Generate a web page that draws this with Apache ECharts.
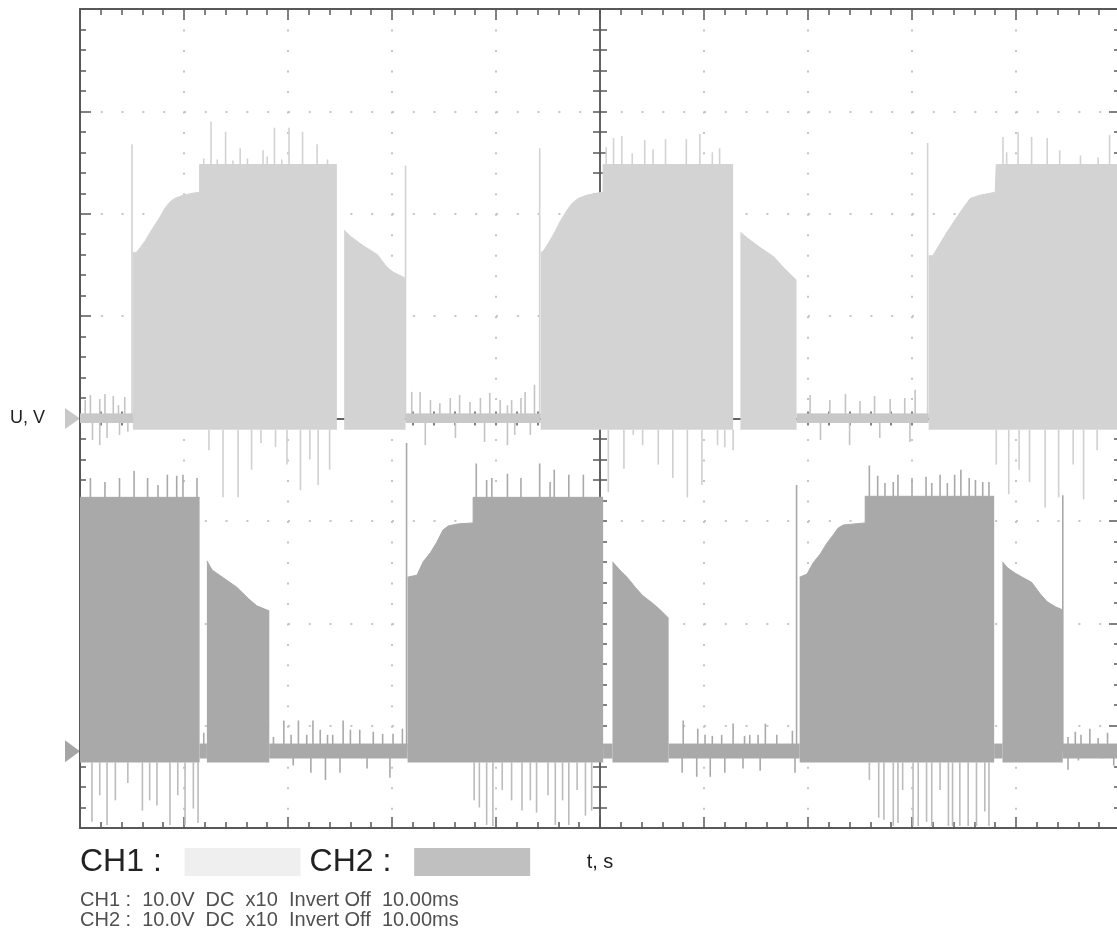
<!DOCTYPE html>
<html>
<head>
<meta charset="utf-8">
<script src="https://cdn.jsdelivr.net/npm/echarts@6/dist/echarts.min.js"></script>
<style>
  html, body { margin: 0; padding: 0; background: #fff; }
  #main { width: 1117px; height: 933px; }
</style>
</head>
<body>
<div id="main"></div>
<script>
// time in ms (10 ms/div), voltage in V (10 V/div), each channel relative to its own ground
var ch2Offset = -32.5;

// upper envelope of the PWM bursts, [t, V]; null breaks the fill
var ch1Envelope = [
  [5.1, 16.2], [5.4, 16.2], [5.8, 16.7], [6.3, 17.4], [6.7, 18.1], [7.2, 18.9], [7.7, 19.7], [8.2, 20.6],
  [8.7, 21.2], [9.1, 21.5], [9.9, 21.8], [10.8, 22.0], [11.5, 22.1], [11.5, 24.8], [24.7, 24.8], [25.0, null],
  [25.4, 18.4], [26.0, 17.8], [27.2, 16.9], [28.6, 16.0], [29.5, 14.8], [30.1, 14.3], [31.3, 13.7], [31.4, null],
  [44.3, 16.2], [44.6, 16.4], [45.2, 17.4], [45.7, 18.3], [46.2, 19.3], [46.8, 20.3], [47.3, 21.0], [47.9, 21.5],
  [48.7, 21.8], [49.6, 22.0], [50.3, 22.1], [50.3, 24.8], [62.8, 24.8], [63.1, null],
  [63.5, 18.2], [64.2, 17.6], [65.4, 16.7], [66.7, 15.8], [67.6, 14.8], [68.2, 14.2], [68.9, 13.5], [69.0, null],
  [81.6, 15.9], [82.0, 15.9], [83.3, 18.1], [84.6, 20.1], [85.6, 21.5], [86.5, 21.8], [88.0, 22.1], [88.1, 24.8], [100, 24.8]
];
var ch2Envelope = [
  [0, 24.8], [11.5, 24.8], [11.9, null],
  [12.2, 18.6], [12.7, 17.7], [13.7, 17.0], [15.1, 16.0], [16.2, 14.9], [17.0, 14.2], [18.2, 13.7], [18.3, null],
  [31.5, 17.0], [32.4, 17.2], [33.0, 18.5], [33.7, 19.4], [34.3, 20.4], [34.9, 21.6], [35.4, 22.0], [36.3, 22.2],
  [37.8, 22.3], [37.8, 24.8], [50.3, 24.8], [50.7, null],
  [51.2, 18.5], [51.9, 17.7], [52.6, 17.0], [53.4, 16.0], [54.1, 15.2], [55.0, 14.5], [55.8, 13.8], [56.6, 13.0], [56.7, null],
  [69.2, 17.0], [69.9, 17.3], [70.5, 18.4], [71.2, 19.3], [71.8, 20.3], [72.4, 21.1], [72.9, 21.8], [73.4, 22.1],
  [75.5, 22.3], [75.5, 24.9], [87.9, 24.9], [88.3, null],
  [88.7, 18.5], [89.2, 17.9], [89.9, 17.4], [90.6, 17.0], [91.5, 16.5], [92.3, 15.4], [93.0, 14.6], [93.8, 14.1], [94.5, 13.8]
];
var ch1FillBottom = -1.1;
var ch2FillBottom = -1.1;

// stretches where only switching noise sits on the ground line, [from, to] in ms
var ch1NoiseSpans = [[0, 5.1], [31.3, 44.3], [68.9, 81.6]];
var ch2NoiseSpans = [[11.5, 12.2], [18.2, 31.5], [50.3, 51.2], [56.6, 69.2], [87.9, 88.7], [94.5, 100]];
var ch1NoiseLevel = 0.45;
var ch2NoiseLevel = 0.7;

// ringing spikes, [t, V]
var ch1SpikesUp = [
  [5.0, 26.8], [12.6, 29.0], [14.0, 28.0], [15.4, 26.4], [17.6, 26.2], [18.7, 28.4], [20.1, 28.4], [21.4, 28.0], [22.8, 26.8],
  [11.9, 25.4], [13.2, 25.3], [14.7, 25.2], [16.1, 25.4], [18.0, 25.6], [19.4, 25.3], [23.8, 25.3], [31.3, 24.7],
  [44.2, 26.4], [50.6, 26.5], [51.3, 27.4], [52.1, 27.6], [53.1, 25.9], [54.3, 27.2], [55.1, 26.3], [56.3, 27.3],
  [58.3, 27.3], [59.6, 27.8], [60.8, 26.0], [61.5, 26.4],
  [81.5, 26.9], [88.75, 27.5], [89.1, 26.0], [90.2, 28.0], [91.5, 27.5], [93.0, 27.4], [94.2, 26.2], [96.2, 25.7],
  [97.9, 25.5], [99.0, 27.7]
];
var ch1SpikesDown = [
  [12.4, -3.1], [13.75, -7.7], [15.2, -7.7], [16.5, -5.0], [17.4, -2.4], [18.8, -2.8], [19.9, -4.5], [21.2, -7.0],
  [22.1, -4.0], [22.9, -6.5], [24.0, -5.0],
  [50.8, -7.2], [52.3, -4.9], [53.2, -1.6], [54.1, -2.6], [55.6, -4.5], [57.0, -5.8], [58.4, -7.7], [59.8, -6.5],
  [61.3, -2.6], [62.0, -2.8], [62.8, -3.1],
  [88.1, -4.5], [89.3, -7.4], [90.3, -5.0], [91.3, -6.2], [92.8, -8.7], [94.1, -7.7], [95.5, -4.5], [96.5, -7.9], [97.8, -3.1]
];
var ch1Noise = [
  [0.5, 1.8], [1.0, 2.3], [1.9, 1.9], [2.4, 2.4], [3.2, 2.2], [3.7, 1.3], [4.3, 2.1],
  [1.2, -2.1], [1.9, -2.6], [2.6, -1.9], [3.8, -1.6], [4.6, -1.3],
  [31.9, 2.6], [32.7, 2.6], [33.7, 1.8], [34.6, 1.5], [35.6, 2.0], [36.5, 2.3], [37.5, 1.6], [38.5, 2.0], [39.4, 2.5],
  [40.4, 1.8], [41.1, 1.3], [41.5, 1.8], [42.4, 2.0], [42.8, 2.6], [43.7, 3.3],
  [33.2, -2.6], [36.1, -1.9], [38.9, -2.3], [41.1, -2.6], [41.8, -1.6], [43.3, -1.6],
  [70.2, 2.3], [72.1, 1.8], [73.6, 2.4], [75.0, 1.7], [76.4, 2.2], [77.9, 1.9], [79.3, 2.0], [80.3, 2.8],
  [71.2, -2.1], [74.0, -2.6], [76.9, -1.9], [79.8, -2.3]
];
var ch2SpikesUp = [
  [1.0, 26.7], [2.4, 26.3], [3.8, 26.7], [5.2, 27.4], [6.5, 26.7], [7.5, 26.0], [8.4, 27.0], [9.3, 26.9], [9.9, 27.0], [11.25, 26.7],
  [31.4, 30.1], [38.1, 28.1], [39.1, 26.5], [39.6, 26.7], [41.1, 27.1], [42.4, 26.7], [44.2, 28.1], [45.2, 26.3],
  [45.6, 27.5], [47.0, 27.0], [48.4, 27.0],
  [68.9, 26.0], [75.9, 27.9], [76.7, 26.9], [77.4, 26.2], [78.2, 26.3], [78.65, 27.0], [80.0, 26.7], [81.35, 26.8],
  [81.9, 26.2], [82.7, 27.0], [83.4, 26.2], [84.1, 27.0], [84.7, 27.5], [85.5, 26.7], [86.1, 26.5], [86.8, 26.3],
  [87.4, 26.3], [94.5, 25.0]
];
var ch2SpikesDown = [
  [1.15, -6.9], [1.9, -4.3], [2.6, -7.2], [3.4, -4.8], [4.6, -3.1], [6.0, -5.8], [6.7, -4.8], [7.4, -5.3],
  [8.65, -7.2], [9.4, -4.3], [10.1, -7.2], [10.9, -5.6], [11.35, -7.0],
  [37.9, -4.8], [38.4, -5.5], [39.1, -7.2], [39.7, -7.3], [40.6, -3.8], [41.5, -4.8], [42.5, -5.8], [43.3, -4.8],
  [43.9, -6.0], [45.0, -4.3], [45.7, -7.2], [46.4, -4.8], [47.0, -7.2], [47.8, -3.8], [48.6, -6.3], [49.2, -5.8],
  [75.9, -2.8], [76.8, -6.5], [77.3, -6.7], [78.2, -7.3], [78.65, -7.0], [79.1, -3.8], [80.1, -7.3], [80.6, -7.3],
  [81.4, -6.9], [81.9, -7.3], [82.7, -3.8], [83.5, -7.3], [83.9, -7.3], [84.6, -7.3], [85.4, -7.3], [86.2, -7.3],
  [87.0, -5.9], [87.4, -7.3]
];
var ch2Noise = [
  [11.9, 1.8],
  [18.6, 1.4], [19.6, 3.0], [20.3, 1.6], [21.0, 3.0], [21.8, 1.6], [22.4, 3.0], [23.1, 2.1], [23.8, 1.6], [24.3, 1.6],
  [25.3, 3.0], [26.0, 2.1], [26.9, 2.1], [28.2, 1.9], [29.1, 1.7], [30.1, 1.7], [31.0, 2.2],
  [20.5, -1.4], [22.2, -2.1], [23.6, -2.8], [25.0, -2.1], [27.6, -1.7], [29.8, -2.6],
  [58.0, 3.0], [59.4, 2.2], [60.1, 1.6], [60.8, 1.5], [61.7, 1.6], [62.8, 2.7], [63.9, 1.5], [64.4, 1.6], [65.2, 1.6],
  [65.9, 2.7], [67.0, 1.6], [68.5, 2.0],
  [57.9, -2.1], [59.3, -2.5], [60.6, -2.5], [62.0, -2.1], [63.75, -1.7], [65.4, -1.9], [68.75, -2.1],
  [95.0, 1.4], [95.7, 1.9], [96.25, 1.6], [97.1, 2.2], [97.9, 1.3], [98.8, 1.8],
  [95.0, -1.8], [96.0, -0.9], [98.3, -0.7], [99.4, -1.4]
];

var legendNames = ['CH1', 'CH2'];
var infoLines = [
  'CH1 :  10.0V  DC  x10  Invert Off  10.00ms',
  'CH2 :  10.0V  DC  x10  Invert Off  10.00ms'
];

var font = 'Liberation Sans, Arial, sans-serif';
var ch1Color = '#d3d3d3';
var ch2Color = '#a9a9a9';
var axisColor = '#585858';

function shift(points, offset) {
  return points.map(function (p) {
    return [p[0], p[1] == null ? null : p[1] + offset];
  });
}

function spans(list, level, offset) {
  var out = [];
  list.forEach(function (s, i) {
    if (i > 0) out.push([s[0] - 0.01, null]);
    out.push([s[0], level + offset], [s[1], level + offset]);
  });
  return out;
}

function envelopeSeries(name, data, origin, color) {
  return {
    name: name,
    type: 'line',
    data: data,
    showSymbol: false,
    silent: true,
    connectNulls: false,
    lineStyle: { color: color, width: 1 },
    itemStyle: { color: color },
    areaStyle: { color: color, opacity: 1, origin: origin },
    z: 3
  };
}

function spikeSeries(data, base, offset, color) {
  return {
    type: 'custom',
    data: data,
    silent: true,
    clip: true,
    z: 2,
    encode: { x: 0, y: 1 },
    renderItem: function (params, api) {
      var t = api.value(0);
      var p0 = api.coord([t, base + offset]);
      var p1 = api.coord([t, api.value(1) + offset]);
      return {
        type: 'line',
        shape: { x1: p0[0], y1: p0[1], x2: p1[0], y2: p1[1] },
        style: { stroke: color, lineWidth: 1.6 }
      };
    }
  };
}

function frameAxis(extra) {
  return Object.assign({
    type: 'value',
    axisLine: { onZero: false, lineStyle: { color: axisColor, width: 2 } },
    axisTick: { inside: true, length: 11, lineStyle: { color: axisColor, width: 1.5 } },
    minorTick: { show: true, splitNumber: 5, length: 6, lineStyle: { color: axisColor, width: 1.5 } },
    axisLabel: { show: false },
    splitLine: { show: false },
    minorSplitLine: { show: false }
  }, extra);
}

function centerAxis(extra) {
  return Object.assign({
    type: 'value',
    interval: 2,
    axisLine: { lineStyle: { color: axisColor, width: 1.5 } },
    axisTick: { length: 7, lineStyle: { color: axisColor, width: 1.5 } },
    axisLabel: { show: false },
    splitLine: { show: false }
  }, extra);
}

var chart = echarts.init(document.getElementById('main'));

var option = {
  backgroundColor: '#fff',
  animation: false,
  textStyle: { fontFamily: font },
  // the screen runs a few pixels past the right edge of the picture
  grid: { left: 80, top: 9, width: 1040, height: 819, outerBoundsMode: 'none', containLabel: false },
  title: {
    text: infoLines.join('\n'),
    left: 80,
    top: 890,
    padding: 0,
    textStyle: { fontFamily: font, fontSize: 20, fontWeight: 'normal', color: '#505050', lineHeight: 20 }
  },
  legend: {
    data: [
      { name: legendNames[0], itemStyle: { color: '#efefef' } },
      { name: legendNames[1], itemStyle: { color: '#c0c0c0' } }
    ],
    left: 80,
    top: 846,
    padding: 0,
    icon: 'rect',
    align: 'right',
    itemWidth: 116,
    itemHeight: 28,
    itemGap: 9,
    selectedMode: false,
    formatter: function (name) { return name + ' :  '; },
    textStyle: { fontFamily: font, fontSize: 32, color: '#222' }
  },
  xAxis: [
    frameAxis({
      min: 0, max: 100, interval: 10, position: 'bottom',
      splitLine: { show: true, lineStyle: { color: '#c6c6c6', width: 2, type: [2, 18.48] } },
      name: 't, s', nameLocation: 'middle', nameGap: 24,
      nameTextStyle: { fontFamily: font, fontSize: 20, color: '#222' }
    }),
    frameAxis({ min: 0, max: 100, interval: 10, position: 'top' }),
    centerAxis({ min: 0, max: 100, position: 'bottom', axisLine: { onZero: true, onZeroAxisIndex: 0, lineStyle: { color: axisColor, width: 1.5 } }, axisTick: { inside: false, length: 7, lineStyle: { color: axisColor, width: 1.5 } } }),
    centerAxis({ min: 0, max: 100, position: 'bottom', axisLine: { onZero: true, onZeroAxisIndex: 0, lineStyle: { color: axisColor, width: 1.5 } }, axisTick: { inside: true, length: 7, lineStyle: { color: axisColor, width: 1.5 } } })
  ],
  yAxis: [
    frameAxis({
      min: -40, max: 40, interval: 10, position: 'left',
      splitLine: { show: true, lineStyle: { color: '#c6c6c6', width: 2, type: [2, 18.8] } },
      name: 'U, V', nameLocation: 'middle', nameGap: 35, nameRotate: 0,
      nameTextStyle: { fontFamily: font, fontSize: 18, color: '#222' }
    }),
    frameAxis({ min: -40, max: 40, interval: 10, position: 'right' }),
    centerAxis({ min: -40, max: 40, position: 'left', offset: -520, axisLine: { onZero: false, lineStyle: { color: axisColor, width: 1.5 } }, axisTick: { inside: false, length: 7, lineStyle: { color: axisColor, width: 1.5 } } }),
    centerAxis({ min: -40, max: 40, position: 'left', offset: -520, axisLine: { onZero: false, lineStyle: { color: axisColor, width: 1.5 } }, axisTick: { inside: true, length: 7, lineStyle: { color: axisColor, width: 1.5 } } })
  ],
  series: [
    envelopeSeries('CH1', ch1Envelope, ch1FillBottom, ch1Color),
    envelopeSeries('CH2', shift(ch2Envelope, ch2Offset), ch2Offset + ch2FillBottom, ch2Color),
    envelopeSeries('ch1-noise', spans(ch1NoiseSpans, ch1NoiseLevel, 0), -ch1NoiseLevel, '#c8c8c8'),
    envelopeSeries('ch2-noise', spans(ch2NoiseSpans, ch2NoiseLevel, ch2Offset), ch2Offset - ch2NoiseLevel, '#a9a9a9'),
    spikeSeries(ch1SpikesUp, 0, 0, ch1Color),
    spikeSeries(ch1SpikesDown, ch1FillBottom, 0, '#d0d0d0'),
    spikeSeries(ch1Noise, 0, 0, '#c4c4c4'),
    spikeSeries(ch2SpikesUp, 0, ch2Offset, ch2Color),
    spikeSeries(ch2SpikesDown, ch2FillBottom, ch2Offset, '#bcbcbc'),
    spikeSeries(ch2Noise, 0, ch2Offset, '#a9a9a9')
  ]
};

chart.setOption(option);

// ground markers on the left edge, placed through the y scale
var g1 = chart.convertToPixel({ yAxisIndex: 0 }, 0);
var g2 = chart.convertToPixel({ yAxisIndex: 0 }, ch2Offset);
chart.setOption({
  graphic: [
    { type: 'polygon', shape: { points: [[65, g1 - 10.5], [80, g1], [65, g1 + 10.5]] }, style: { fill: '#c8c8c8' } },
    { type: 'polygon', shape: { points: [[65, g2 - 11], [80, g2], [65, g2 + 11]] }, style: { fill: '#a5a5a5' } }
  ]
});
</script>
</body>
</html>
